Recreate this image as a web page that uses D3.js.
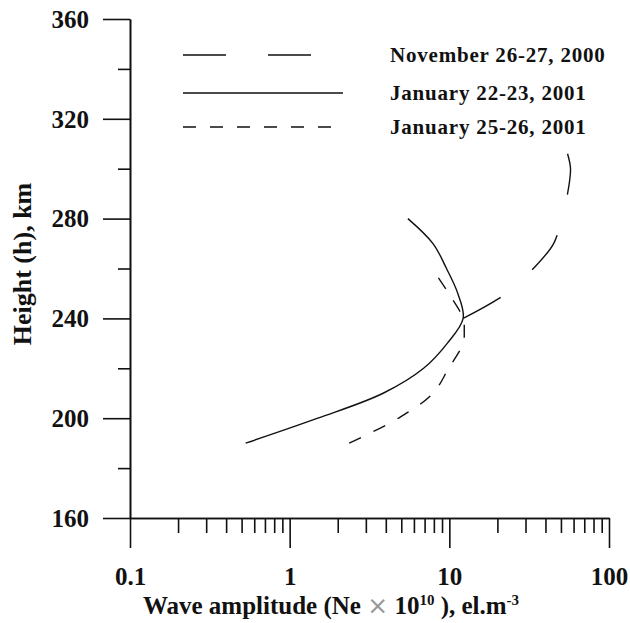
<!DOCTYPE html>
<html>
<head>
<meta charset="utf-8">
<script src="https://cdn.jsdelivr.net/npm/d3@7/dist/d3.min.js"></script>
<style>
  body { margin: 0; background: #fff; }
  text { font-family: "Liberation Serif", "Times New Roman", serif; font-weight: bold; fill: #111; }
</style>
</head>
<body>
<div id="chart"></div>
<script>
// data
var heightTicks = [160, 200, 240, 280, 320, 360];
var heightMinorTicks = [180, 220, 260, 300, 340];
var ampTicks = [0.1, 1, 10, 100];
var ampTickLabels = ["0.1", "1", "10", "100"];
var ampMinorTicks = [0.2, 0.3, 0.4, 0.5, 0.6, 0.7, 0.8, 0.9,
                     2, 3, 4, 5, 6, 7, 8, 9,
                     20, 30, 40, 50, 60, 70, 80, 90];

var seriesNames = ["November 26-27, 2000", "January 22-23, 2001", "January 25-26, 2001"];

var novHeight = [240, 250, 260, 270, 280, 290, 300, 306];
var novAmp = [12.2, 22.8, 33.6, 45, 50.4, 55, 57.4, 55];

var jan22Height = [190, 200, 210, 220, 230, 240, 250, 260, 270, 280];
var jan22Amp = [0.53, 1.5, 3.85, 6.9, 9.7, 12.2, 11.3, 9.6, 7.9, 5.5];

var jan25Height = [190, 200, 210, 220, 230, 235, 240, 250, 260];
var jan25Amp = [2.36, 4.8, 7.9, 9.9, 12.2, 12.4, 12.2, 9.9, 7.8];

var dashes = ["43,42", null, "13,14"];

var width = 630, height = 623;
var plot = { left: 130, right: 609, top: 19, bottom: 518 };

var svg = d3.select("#chart")
    .append("svg")
    .attr("width", width)
    .attr("height", height);

var xScale = d3.scaleLog().domain([0.1, 100]).range([plot.left, plot.right]);
var yScale = d3.scaleLinear().domain([160, 360]).range([plot.bottom, plot.top]);

function styleAxis(g) {
    g.select(".domain").attr("stroke", "#111").attr("stroke-width", 1.6);
    g.selectAll(".tick line").attr("stroke", "#111").attr("stroke-width", 1.6);
}

// x axis: minor then major ticks hanging down
svg.append("g")
    .attr("transform", "translate(0," + plot.bottom + ")")
    .call(d3.axisBottom(xScale).tickValues(ampMinorTicks).tickSize(15).tickSizeOuter(0).tickFormat(""))
    .call(styleAxis);

var xMajor = svg.append("g")
    .attr("transform", "translate(0," + plot.bottom + ")")
    .call(d3.axisBottom(xScale).tickValues(ampTicks).tickSize(30).tickSizeOuter(0)
        .tickFormat(function (d, i) { return ampTickLabels[i]; }))
    .call(styleAxis);
xMajor.attr("font-family", null).attr("font-size", null);
xMajor.selectAll("text")
    .attr("y", 67)
    .attr("dy", 0)
    .style("font-size", "25px")
    .attr("fill", "#111");

// y axis
svg.append("g")
    .attr("transform", "translate(" + plot.left + ",0)")
    .call(d3.axisLeft(yScale).tickValues(heightMinorTicks).tickSize(12).tickSizeOuter(0).tickFormat(""))
    .call(styleAxis);

var yMajor = svg.append("g")
    .attr("transform", "translate(" + plot.left + ",0)")
    .call(d3.axisLeft(yScale).tickValues(heightTicks).tickSize(27).tickSizeOuter(0))
    .call(styleAxis);
yMajor.attr("font-family", null).attr("font-size", null);
yMajor.selectAll("text")
    .attr("x", -41)
    .attr("dy", "0.33em")
    .style("font-size", "25px")
    .attr("fill", "#111");

// curves
var series = [
    { h: novHeight, a: novAmp },
    { h: jan22Height, a: jan22Amp },
    { h: jan25Height, a: jan25Amp }
];

var line = d3.line()
    .x(function (d) { return xScale(d[1]); })
    .y(function (d) { return yScale(d[0]); })
    .curve(d3.curveCatmullRom.alpha(0.5));

series.forEach(function (s, i) {
    var pts = s.h.map(function (h, j) { return [h, s.a[j]]; });
    svg.append("path")
        .datum(pts)
        .attr("d", line)
        .attr("fill", "none")
        .attr("stroke", "#111")
        .attr("stroke-width", 1.4)
        .attr("stroke-dasharray", dashes[i]);
});

// legend
var legend = svg.selectAll(".legend")
    .data(seriesNames)
    .enter()
    .append("g")
    .attr("class", "legend")
    .attr("transform", function (d, i) { return "translate(0," + [55, 93, 127][i] + ")"; });

legend.append("line")
    .attr("x1", 183)
    .attr("x2", 343)
    .attr("stroke", "#111")
    .attr("stroke-width", 1.5)
    .attr("stroke-dasharray", function (d, i) { return dashes[i]; });

legend.append("text")
    .attr("x", 390)
    .attr("y", 7)
    .style("font-size", "21px")
    .style("letter-spacing", "0.8px")
    .text(function (d) { return d; });

// axis titles
svg.append("text")
    .attr("transform", "translate(31,264) rotate(-90)")
    .attr("text-anchor", "middle")
    .style("font-size", "26px")
    .text("Height (h), km");

var xTitle = svg.append("text")
    .attr("x", 331)
    .attr("y", 614)
    .attr("text-anchor", "middle")
    .style("font-size", "25px");
xTitle.append("tspan").text("Wave amplitude (Ne ");
xTitle.append("tspan").text("\u00d7").style("font-weight", "normal").style("fill", "#999")
    .style("font-family", "'DejaVu Sans', sans-serif");
xTitle.append("tspan").text("  10");
xTitle.append("tspan").text("10").attr("dy", -9).style("font-size", "15px");
xTitle.append("tspan").text(" ), el.m").attr("dy", 9);
xTitle.append("tspan").text("-3").attr("dy", -9).style("font-size", "15px");
</script>
</body>
</html>
